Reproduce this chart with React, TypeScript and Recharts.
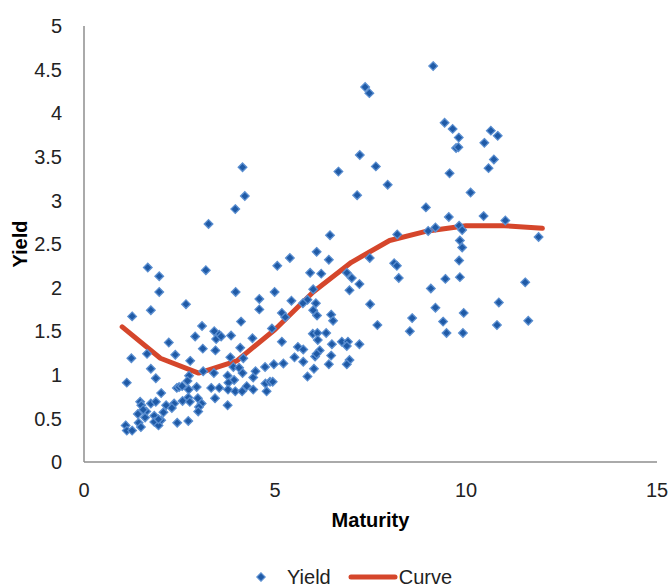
import React from 'react';
import { ScatterChart, Scatter, XAxis, YAxis, Legend } from 'recharts';

// Scatter observations (maturity in years, yield in %)
const maturity = [
  1.67, 1.97, 3.19, 1.97, 1.75, 1.26, 2.67, 3.97, 4.59, 4.99, 4.59, 5.06, 4.11, 3.09, 3.41, 3.54, 3.46, 3.59, 3.85, 2.91,
  2.22, 3.11, 3.44, 4.09, 4.41, 4.92, 1.24, 1.65, 2.39, 2.78, 3.83, 3.91, 4.06, 4.17, 1.75, 1.12, 1.88, 2.75, 3.12, 3.40,
  3.76, 3.93, 4.15, 4.43, 4.49, 4.74, 4.97, 4.75, 4.87, 4.94, 4.78, 2.02, 2.43, 2.49, 2.57, 2.71, 2.74, 2.95, 3.33, 3.54,
  3.78, 3.77, 3.96, 4.14, 4.26, 4.43, 3.43, 1.47, 1.50, 1.75, 1.88, 2.15, 2.36, 2.58, 2.73, 2.77, 2.98, 3.08, 3.01, 2.99,
  3.76, 1.63, 1.41, 1.60, 1.84, 2.08, 2.30, 2.02, 1.84, 1.95, 1.43, 1.49, 1.09, 1.12, 1.26, 2.44, 2.73, 1.55, 1.95, 5.22,
  5.39, 6.09, 6.41, 5.92, 6.21, 6.88, 7.01, 7.21, 7.48, 6.95, 6.00, 5.43, 5.85, 5.73, 6.07, 6.00, 6.10, 5.18, 5.27, 7.49,
  6.47, 6.52, 7.68, 5.99, 6.11, 6.34, 6.12, 5.18, 6.49, 6.75, 6.91, 6.88, 7.21, 5.60, 5.74, 6.17, 5.51, 5.74, 6.05, 6.09,
  6.47, 6.41, 6.95, 6.88, 6.02, 5.85,
  7.22, 7.64, 6.66, 7.95, 7.15, 9.57, 10.12, 8.95, 9.55, 6.44, 8.20, 9.01, 9.20, 9.82, 9.90, 9.84, 9.90, 9.82, 8.12, 8.19,
  8.24, 9.46, 9.84, 9.08, 9.20, 8.59, 8.53, 9.40, 9.49, 9.94, 9.92, 9.14, 9.44, 9.65, 9.81, 9.74, 9.80, 10.48, 10.65, 10.83,
  10.73, 10.59, 10.46, 11.03, 11.90, 11.55, 10.86, 10.81, 11.63, 7.36, 7.47, 4.15, 4.21, 3.96, 3.26,
];
const yieldValues = [
  2.23, 2.13, 2.20, 1.95, 1.74, 1.67, 1.81, 1.95, 1.87, 1.95, 1.75, 2.25, 1.61, 1.56, 1.50, 1.46, 1.41, 1.44, 1.45, 1.44,
  1.37, 1.30, 1.28, 1.31, 1.42, 1.53, 1.19, 1.24, 1.23, 1.16, 1.20, 1.09, 1.08, 1.19, 1.07, 0.91, 0.96, 0.99, 1.04, 1.02,
  0.99, 0.94, 1.02, 0.97, 1.04, 1.09, 1.12, 0.90, 0.92, 0.92, 0.81, 0.79, 0.85, 0.86, 0.87, 0.93, 0.83, 0.86, 0.85, 0.85,
  0.91, 0.83, 0.81, 0.81, 0.87, 0.83, 0.73, 0.69, 0.65, 0.67, 0.69, 0.65, 0.67, 0.70, 0.74, 0.69, 0.73, 0.67, 0.63, 0.58,
  0.65, 0.58, 0.55, 0.51, 0.53, 0.57, 0.62, 0.48, 0.46, 0.42, 0.45, 0.40, 0.42, 0.36, 0.36, 0.45, 0.47, 0.60, 0.49, 1.13,
  2.34, 2.41, 2.32, 2.17, 2.16, 2.17, 2.11, 2.04, 2.34, 1.97, 1.98, 1.85, 1.86, 1.82, 1.82, 1.74, 1.68, 1.71, 1.66, 1.81,
  1.69, 1.62, 1.57, 1.47, 1.48, 1.48, 1.40, 1.38, 1.35, 1.38, 1.38, 1.33, 1.35, 1.32, 1.29, 1.28, 1.20, 1.15, 1.21, 1.24,
  1.22, 1.12, 1.17, 1.12, 1.07, 0.98,
  3.52, 3.39, 3.33, 3.18, 3.06, 3.31, 3.09, 2.92, 2.81, 2.60, 2.61, 2.65, 2.69, 2.71, 2.66, 2.54, 2.46, 2.31, 2.28, 2.25,
  2.11, 2.10, 2.12, 1.99, 1.77, 1.65, 1.50, 1.61, 1.48, 1.71, 1.48, 4.54, 3.89, 3.82, 3.72, 3.60, 3.61, 3.66, 3.80, 3.74,
  3.47, 3.37, 2.82, 2.77, 2.58, 2.06, 1.83, 1.57, 1.62, 4.30, 4.23, 3.38, 3.05, 2.90, 2.73,
];

// Fitted curve
const curveMaturity = [1, 2, 3, 4, 5, 6, 7, 8, 9, 10, 11, 12];
const curveYield = [1.55, 1.19, 1.02, 1.16, 1.52, 1.95, 2.29, 2.54, 2.65, 2.71, 2.71, 2.68];

const xTicks = [0, 5, 10, 15];
const yTicks = [0, 0.5, 1, 1.5, 2, 2.5, 3, 3.5, 4, 4.5, 5];

const scatterData = maturity.map((x, i) => ({ x, y: yieldValues[i] }));
const curveData = curveMaturity.map((x, i) => ({ x, y: curveYield[i] }));

const FONT = '"Liberation Sans", Arial, sans-serif';
const FS = 20;
const BLUE_FILL = '#1F5AA6';
const BLUE_STROKE = '#5A8ED0';
const RED = '#D5462B';
const AXIS = '#8E8E8E';
const TEXT = '#222222';

const Diamond = (props: any) => {
  const { cx, cy } = props;
  if (cx == null || cy == null) return <g />;
  const r = 4.3;
  return (
    <path
      d={`M${cx},${cy - r}L${cx + r},${cy}L${cx},${cy + r}L${cx - r},${cy}Z`}
      fill={BLUE_FILL}
      stroke={BLUE_STROKE}
      strokeWidth={1.3}
    />
  );
};

const NoShape = () => <g />;

const LegendContent = () => (
  <div
    style={{
      display: 'flex',
      alignItems: 'center',
      height: 20,
      paddingLeft: 256,
      fontFamily: FONT,
      fontSize: FS,
      color: TEXT,
      lineHeight: '20px',
    }}
  >
    <svg width={10} height={10} style={{ display: 'block' }}>
      <path d="M5,0.8L9.2,5L5,9.2L0.8,5Z" fill={BLUE_FILL} stroke={BLUE_STROKE} strokeWidth={1.2} />
    </svg>
    <span style={{ marginLeft: 21 }}>Yield</span>
    <svg width={50} height={8} style={{ display: 'block', marginLeft: 17 }}>
      <line x1={3} y1={4} x2={47} y2={4} stroke={RED} strokeWidth={5} strokeLinecap="round" />
    </svg>
    <span style={{ marginLeft: 1 }}>Curve</span>
  </div>
);

export default function App() {
  return (
    <div style={{ width: 672, height: 587 }}>
      <style>{'body{margin:0} .recharts-surface{overflow:visible}'}</style>
      <ScatterChart
        width={672}
        height={587}
        margin={{ top: 26, right: 15, bottom: 0, left: 0 }}
        style={{ fontFamily: FONT }}
      >
        <XAxis
          type="number"
          dataKey="x"
          domain={[0, 15]}
          ticks={xTicks}
          height={105}
          tickSize={0}
          tickMargin={21}
          axisLine={{ stroke: AXIS, strokeWidth: 1.5 }}
          tickLine={false}
          tick={{ fill: TEXT, fontSize: FS, fontFamily: FONT }}
          label={{
            value: 'Maturity',
            position: 'insideTop',
            offset: 51,
            style: { fill: '#000', fontSize: FS, fontWeight: 'bold', fontFamily: FONT },
          }}
        />
        <YAxis
          type="number"
          dataKey="y"
          domain={[0, 5]}
          ticks={yTicks}
          width={84}
          tickSize={0}
          tickMargin={22}
          axisLine={{ stroke: AXIS, strokeWidth: 1.5 }}
          tickLine={false}
          tick={{ fill: TEXT, fontSize: FS, fontFamily: FONT }}
          label={{
            value: 'Yield',
            angle: -90,
            position: 'insideLeft',
            offset: 20,
            style: { textAnchor: 'middle', fill: '#000', fontSize: FS, fontWeight: 'bold', fontFamily: FONT },
          }}
        />
        <Legend verticalAlign="bottom" content={<LegendContent />} wrapperStyle={{ left: 0, width: 672 }} />
        <Scatter
          name="Curve"
          data={curveData}
          line={{ stroke: RED, strokeWidth: 5, strokeLinejoin: 'round', strokeLinecap: 'round' }}
          lineType="joint"
          shape={<NoShape />}
          fill={RED}
          isAnimationActive={false}
        />
        <Scatter
          name="Yield"
          data={scatterData}
          shape={<Diamond />}
          fill={BLUE_FILL}
          isAnimationActive={false}
        />
      </ScatterChart>
    </div>
  );
}
